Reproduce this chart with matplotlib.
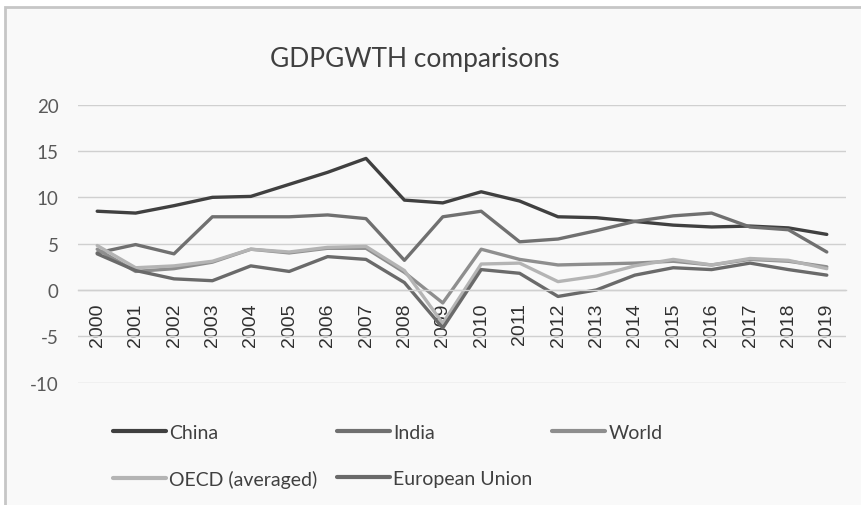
import matplotlib.pyplot as plt
from matplotlib.patches import Rectangle

years = [str(y) for y in range(2000, 2020)]

china = [8.5, 8.3, 9.1, 10.0, 10.1, 11.4, 12.7, 14.2, 9.7, 9.4,
         10.6, 9.6, 7.9, 7.8, 7.4, 7.0, 6.8, 6.9, 6.7, 6.0]
india = [4.0, 4.9, 3.9, 7.9, 7.9, 7.9, 8.1, 7.7, 3.2, 7.9,
         8.5, 5.2, 5.5, 6.4, 7.4, 8.0, 8.3, 6.8, 6.5, 4.1]
world = [4.4, 2.0, 2.3, 3.0, 4.4, 4.0, 4.5, 4.5, 1.9, -1.4,
         4.4, 3.3, 2.7, 2.8, 2.9, 3.1, 2.7, 3.3, 3.1, 2.5]
oecd = [4.8, 2.4, 2.6, 3.1, 4.4, 4.1, 4.6, 4.7, 2.1, -3.6,
        2.8, 2.9, 0.9, 1.5, 2.6, 3.3, 2.7, 3.4, 3.2, 2.3]
eu = [3.9, 2.1, 1.2, 1.0, 2.6, 2.0, 3.6, 3.3, 0.8, -4.1,
      2.2, 1.8, -0.7, 0.0, 1.6, 2.4, 2.2, 2.9, 2.2, 1.6]

series = [
    ("China", china, "#404040"),
    ("India", india, "#707070"),
    ("World", world, "#8e8e8e"),
    ("OECD (averaged)", oecd, "#b4b4b4"),
    ("European Union", eu, "#6a6a6a"),
]

plt.rcParams["font.family"] = ["Lato", "DejaVu Sans"]
plt.rcParams["axes.unicode_minus"] = False

fig = plt.figure(figsize=(8.61, 5.06), dpi=100)
fig.patch.set_facecolor("white")
# chart area with the grey frame on the left and top
fig.patches.append(Rectangle((5 / 861, -0.1), 1.1, 1.1 - 8 / 506, transform=fig.transFigure,
                             facecolor="#f9f9f9", edgecolor="#c6c6c6", linewidth=2, zorder=-5))

ax = fig.add_axes([78 / 861, 1 - 383.6 / 506, 768 / 861, (383.6 - 105.7) / 506])
ax.set_facecolor("none")

x = list(range(len(years)))
lines = {}
for name, vals, color in series:
    (ln,) = ax.plot(x, vals, color=color, linewidth=2.4, label=name, solid_capstyle="round")
    lines[name] = ln

ax.set_xlim(-0.5, len(years) - 0.5)
ax.set_ylim(-10, 20)
ax.set_yticks(range(-10, 21, 5))
ax.yaxis.grid(True, color="#d0d0d0", linewidth=1)
ax.set_axisbelow(True)
for s in ["top", "right", "left"]:
    ax.spines[s].set_visible(False)
ax.spines["bottom"].set_position(("data", 0))
ax.spines["bottom"].set_color("#d0d0d0")
ax.spines["bottom"].set_linewidth(1)

ax.set_xticks(x)
ax.set_xticklabels(years, rotation=90, fontfamily="Liberation Sans", fontsize=14, color="#303030")
ax.tick_params(axis="x", length=0, pad=9)
ax.tick_params(axis="y", length=0, pad=14, labelsize=13.5, labelcolor="#595959")

fig.text(0.482, 1 - 60 / 506, "GDPGWTH comparisons", ha="center", va="center",
         fontsize=19, color="#404040")

order = ["China", "OECD (averaged)", "India", "European Union", "World"]
leg = ax.legend([lines[n] for n in order], order, ncol=3, frameon=False,
                loc="upper left", bbox_to_anchor=(113 / 861, 1 - 425 / 506),
                bbox_transform=fig.transFigure, fontsize=14, labelcolor="#404040",
                handlelength=2.7, handletextpad=0.2, columnspacing=1.0, labelspacing=1.5,
                borderaxespad=0, borderpad=0)
for h in leg.get_lines():
    h.set_linewidth(3)

fig.savefig("out.png", dpi=100)
